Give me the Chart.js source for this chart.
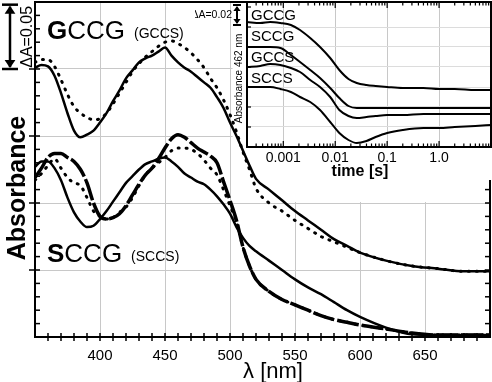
<!DOCTYPE html>
<html>
<head>
<meta charset="utf-8">
<script src="https://cdn.jsdelivr.net/npm/chart.js@4/dist/chart.umd.min.js"></script>
<style>
  html, body { margin: 0; padding: 0; background: #fff; }
  #wrap { position: relative; width: 492px; height: 382px; }
  #main { position: absolute; left: 0; top: 0; }
  #inset { position: absolute; left: 195px; top: 0; }
</style>
</head>
<body>
<div id="wrap">
  <canvas id="main" width="492" height="382"></canvas>
  <canvas id="inset" width="297" height="185"></canvas>
</div>
<script>
// main panel: absorbance spectra (one grid step = 0.05)
const wavelengths = [350, 355, 360, 365, 370, 375, 380, 385, 390, 395, 400, 405, 410, 415, 420, 425, 430, 435, 440, 445, 450, 455, 460, 465, 470, 475, 480, 485, 490, 495, 500, 505, 510, 515, 520, 530, 540, 550, 560, 570, 580, 590, 600, 620, 640, 660, 680, 700]
const gccgSolid = [0.201, 0.203, 0.202, 0.195, 0.182, 0.167, 0.154, 0.149, 0.151, 0.154, 0.160, 0.167, 0.176, 0.184, 0.193, 0.199, 0.205, 0.208, 0.210, 0.213, 0.216, 0.210, 0.205, 0.201, 0.198, 0.194, 0.190, 0.186, 0.179, 0.171, 0.160, 0.150, 0.139, 0.128, 0.118, 0.110, 0.102, 0.094, 0.087, 0.080, 0.073, 0.068, 0.063, 0.057, 0.053, 0.051, 0.049, 0.049]
const gccsDotted = [0.205, 0.207, 0.207, 0.202, 0.192, 0.181, 0.172, 0.167, 0.164, 0.162, 0.163, 0.167, 0.174, 0.182, 0.190, 0.198, 0.204, 0.209, 0.213, 0.217, 0.220, 0.221, 0.219, 0.216, 0.212, 0.207, 0.201, 0.193, 0.186, 0.177, 0.166, 0.153, 0.138, 0.125, 0.111, 0.100, 0.094, 0.087, 0.081, 0.075, 0.071, 0.067, 0.063, 0.057, 0.053, 0.051, 0.049, 0.049]
const sccgSolid = [0.127, 0.131, 0.131, 0.126, 0.117, 0.104, 0.093, 0.086, 0.082, 0.083, 0.088, 0.094, 0.101, 0.108, 0.115, 0.120, 0.125, 0.129, 0.131, 0.133, 0.134, 0.131, 0.127, 0.122, 0.119, 0.116, 0.114, 0.110, 0.105, 0.099, 0.092, 0.082, 0.074, 0.068, 0.064, 0.057, 0.050, 0.043, 0.037, 0.032, 0.026, 0.020, 0.015, 0.007, 0.002, 0.0015, 0.0015, 0.0015]
const sccgThick = [0.119, 0.126, 0.134, 0.137, 0.137, 0.134, 0.131, 0.125, 0.115, 0.100, 0.090, 0.088, 0.089, 0.092, 0.098, 0.106, 0.114, 0.121, 0.126, 0.133, 0.141, 0.148, 0.151, 0.149, 0.145, 0.141, 0.138, 0.135, 0.130, 0.116, 0.102, 0.087, 0.067, 0.053, 0.043, 0.034, 0.028, 0.024, 0.020, 0.016, 0.013, 0.011, 0.009, 0.006, 0.003, 0.0015, 0.0015, 0.0015]
const sccsDotted = [0.117, 0.122, 0.128, 0.133, 0.126, 0.119, 0.115, 0.113, 0.104, 0.094, 0.090, 0.088, 0.089, 0.093, 0.097, 0.104, 0.113, 0.121, 0.126, 0.130, 0.134, 0.139, 0.141, 0.141, 0.140, 0.137, 0.132, 0.126, 0.121, 0.110, 0.098, 0.086, 0.067, 0.053, 0.043, 0.034, 0.028, 0.024, 0.020, 0.016, 0.013, 0.011, 0.009, 0.006, 0.003, 0.0015, 0.0015, 0.0015]
const xTickValues = [400, 450, 500, 550, 600, 650]
const yGridValues = [0.05, 0.1, 0.15, 0.2]

// inset: absorbance at 462 nm vs time
const times = [0.0002, 0.00036, 0.00056, 0.00088, 0.0014, 0.0021, 0.0033, 0.0051, 0.008, 0.012, 0.018, 0.026, 0.04, 0.06, 0.1, 0.2, 0.5, 1, 2, 5, 10]
const gccgKinetic = [0.125, 0.124, 0.125, 0.124, 0.122, 0.117, 0.109, 0.100, 0.089, 0.077, 0.068, 0.064, 0.062, 0.061, 0.060, 0.059, 0.059, 0.058, 0.058, 0.057, 0.057]
const sccgKinetic = [0.100, 0.100, 0.100, 0.099, 0.092, 0.085, 0.077, 0.069, 0.059, 0.049, 0.041, 0.039, 0.039, 0.039, 0.039, 0.039, 0.039, 0.039, 0.039, 0.039, 0.039]
const gccsKinetic = [0.080, 0.081, 0.083, 0.082, 0.079, 0.075, 0.067, 0.060, 0.050, 0.037, 0.031, 0.029, 0.030, 0.031, 0.032, 0.032, 0.033, 0.033, 0.033, 0.033, 0.033]
const sccsKinetic = [0.060, 0.060, 0.060, 0.058, 0.055, 0.050, 0.045, 0.037, 0.025, 0.014, 0.007, 0.004, 0.006, 0.010, 0.014, 0.017, 0.019, 0.019, 0.020, 0.021, 0.022]
const insetTickValues = [0.001, 0.01, 0.1, 1]
const insetTickLabels = ["0.001", "0.01", "0.1", "1.0"]
const insetNames = ["GCCG", "SCCG", "GCCS", "SCCS"]

const FONT = "'Liberation Sans', Arial, sans-serif"
Chart.defaults.font.family = FONT
Chart.defaults.color = "#000"

const pts = (xs, ys) => xs.map((x, i) => ({ x: x, y: ys[i] }))

function line(ctx, x1, y1, x2, y2) {
  ctx.beginPath()
  ctx.moveTo(x1, y1)
  ctx.lineTo(x2, y2)
  ctx.stroke()
}

function doubleArrow(ctx, x, yTop, yBot, cap, head, lw) {
  ctx.save()
  ctx.strokeStyle = "#000"
  ctx.fillStyle = "#000"
  ctx.lineWidth = lw
  line(ctx, x, yTop + 2, x, yBot - 2)
  line(ctx, x - cap, yTop, x + cap, yTop)
  line(ctx, x - cap, yBot, x + cap, yBot)
  ctx.beginPath()
  ctx.moveTo(x, yTop + 1); ctx.lineTo(x - head * 0.6, yTop + head); ctx.lineTo(x + head * 0.6, yTop + head)
  ctx.fill()
  ctx.beginPath()
  ctx.moveTo(x, yBot - 1); ctx.lineTo(x - head * 0.6, yBot - head); ctx.lineTo(x + head * 0.6, yBot - head)
  ctx.fill()
  ctx.restore()
}

function label(ctx, x, y, bold, rest, size, small, smallSize) {
  ctx.font = "bold " + size + "px " + FONT
  ctx.fillText(bold, x, y)
  let w = ctx.measureText(bold).width
  ctx.font = size + "px " + FONT
  ctx.fillText(rest, x + w, y)
  w += ctx.measureText(rest).width
  ctx.font = smallSize + "px " + FONT
  ctx.fillText(small, x + w + 9, y - 1)
}

const mainDecor = {
  id: "mainDecor",
  beforeDatasetsDraw(chart) {
    // the inset box hides the grid behind it
    const { ctx, chartArea: a, scales: { x, y } } = chart
    const left = x.getPixelForValue(502)
    ctx.save()
    ctx.fillStyle = "#fff"
    ctx.fillRect(left, a.top, a.right - left, y.getPixelForValue(0.1) - 1 - a.top)
    ctx.restore()
  },
  afterDraw(chart) {
    const { ctx, chartArea: a, scales: { x, y } } = chart
    ctx.save()
    ctx.strokeStyle = "#000"
    ctx.lineWidth = 2
    ctx.strokeRect(a.left, a.top, a.right - a.left, a.bottom - a.top)
    ctx.lineWidth = 1.5
    for (let w = 360; w < 700; w += 10) {
      const px = x.getPixelForValue(w)
      line(ctx, px, a.bottom - 4, px, a.bottom + 4)
    }
    for (let k = 1; k < 25; k++) {
      const py = y.getPixelForValue(k / 100)
      line(ctx, a.left, py, a.left + 5, py)
      line(ctx, a.right, py, a.right - 5, py)
      if (k % 5 === 0) line(ctx, a.left - 6, py, a.left, py)
    }

    // scale bar
    doubleArrow(ctx, 10, y.getPixelForValue(0.248), y.getPixelForValue(0.2), 8, 9, 2.5)
    ctx.fillStyle = "#000"
    ctx.save()
    ctx.translate(28, (y.getPixelForValue(0.248) + y.getPixelForValue(0.2)) / 2)
    ctx.rotate(-Math.PI / 2)
    ctx.textAlign = "center"
    ctx.textBaseline = "middle"
    ctx.font = "16px " + FONT
    ctx.fillText("ΔA=0.05", 0, 0)
    ctx.restore()

    // axis titles
    ctx.save()
    ctx.translate(18, 188)
    ctx.rotate(-Math.PI / 2)
    ctx.textAlign = "center"
    ctx.textBaseline = "middle"
    ctx.font = "bold 25px " + FONT
    ctx.fillText("Absorbance", 0, 0)
    ctx.restore()
    ctx.textAlign = "center"
    ctx.textBaseline = "alphabetic"
    ctx.font = "22px " + FONT
    ctx.fillText("λ [nm]", 273, 378)

    // sample labels
    ctx.textAlign = "left"
    label(ctx, 47, 39, "G", "CCG", 26, "(GCCS)", 14)
    label(ctx, 47, 262, "S", "CCG", 26, "(SCCS)", 14)
    ctx.restore()
  }
}

new Chart(document.getElementById("main"), {
  type: "line",
  data: {
    datasets: [
      { data: pts(wavelengths, gccsDotted), borderColor: "#000", borderWidth: 3, borderDash: [1, 7], borderCapStyle: "round" },
      { data: pts(wavelengths, gccgSolid), borderColor: "#000", borderWidth: 2.5 },
      { data: pts(wavelengths, sccsDotted), borderColor: "#000", borderWidth: 3, borderDash: [1, 7], borderCapStyle: "round" },
      { data: pts(wavelengths, sccgThick), borderColor: "#000", borderWidth: 3.5, borderDash: [22, 3] },
      { data: pts(wavelengths, sccgSolid), borderColor: "#000", borderWidth: 2.5 }
    ]
  },
  options: {
    responsive: false,
    animation: false,
    events: [],
    layout: { padding: { top: 2, right: 2, left: 0, bottom: 0 } },
    elements: { point: { radius: 0 }, line: { cubicInterpolationMode: "monotone", fill: false } },
    plugins: { legend: { display: false }, tooltip: { enabled: false } },
    scales: {
      x: {
        type: "linear",
        min: 350,
        max: 700,
        afterBuildTicks: (s) => { s.ticks = xTickValues.map(v => ({ value: v })) },
        afterFit: (s) => { s.height = 45 },
        ticks: { font: { size: 15 }, padding: 10, maxRotation: 0 },
        grid: { color: "#c8c8c8", lineWidth: 1, drawTicks: false },
        border: { display: false }
      },
      y: {
        min: 0,
        max: 0.25,
        afterBuildTicks: (s) => { s.ticks = yGridValues.map(v => ({ value: v })) },
        afterFit: (s) => { s.width = 35 },
        ticks: { display: false },
        grid: { color: "#c8c8c8", lineWidth: 1, drawTicks: false },
        border: { display: false }
      }
    }
  },
  plugins: [mainDecor]
})

const insetDecor = {
  id: "insetDecor",
  beforeDraw(chart) {
    const { ctx, chartArea: a } = chart
    ctx.save()
    ctx.fillStyle = "#fff"
    ctx.fillRect(a.left, a.top, a.right - a.left, a.bottom - a.top)
    ctx.fillRect(a.left + 20, a.bottom, a.right - a.left - 20, 33)
    ctx.restore()
  },
  afterDraw(chart) {
    const { ctx, chartArea: a, scales: { x, y } } = chart
    ctx.save()
    ctx.strokeStyle = "#000"
    ctx.lineWidth = 2
    ctx.strokeRect(a.left, a.top, a.right - a.left, a.bottom - a.top)
    ctx.lineWidth = 1.2
    for (let k = -4; k <= 1; k++) {
      for (let m = 1; m <= 9; m++) {
        const v = m * Math.pow(10, k)
        if (v <= x.min || v >= x.max) continue
        const px = x.getPixelForValue(v)
        const len = m === 1 ? 6 : 3.5
        line(ctx, px, a.bottom, px, a.bottom - len)
        line(ctx, px, a.top, px, a.top + len)
      }
    }
    for (let v = 0.02; v < 0.145; v += 0.02) {
      const py = y.getPixelForValue(v)
      line(ctx, a.left, py, a.left + 4, py)
    }

    // trace names
    ctx.fillStyle = "#000"
    ctx.font = "15px " + FONT
    ctx.textBaseline = "middle"
    ctx.textAlign = "left"
    insetNames.forEach((n, i) => ctx.fillText(n, a.left + 4, a.top + 14 + i * 21))

    // axis titles
    ctx.font = "bold 16px " + FONT
    ctx.textAlign = "center"
    ctx.fillText("time [s]", x.getPixelForValue(0.03), a.bottom + 25)
    ctx.save()
    ctx.translate(a.left - 8, (a.top + a.bottom) / 2 + 4)
    ctx.rotate(-Math.PI / 2)
    ctx.font = "10px " + FONT
    ctx.fillText("Absorbance 462 nm", 0, 0)
    ctx.restore()

    // scale bar
    const yTop = y.getPixelForValue(0.142)
    const yBot = y.getPixelForValue(0.122)
    doubleArrow(ctx, a.left - 10, yTop, yBot, 4, 6, 2)
    ctx.font = "10.5px " + FONT
    ctx.textAlign = "right"
    ctx.fillText("ΔA=0.02", a.left - 15, (yTop + yBot) / 2)
    ctx.restore()
  }
}

new Chart(document.getElementById("inset"), {
  type: "line",
  data: {
    datasets: [gccgKinetic, sccgKinetic, gccsKinetic, sccsKinetic].map(s => ({
      data: pts(times, s), borderColor: "#000", borderWidth: 2
    }))
  },
  options: {
    responsive: false,
    animation: false,
    events: [],
    layout: { padding: { top: 2, right: 1, left: 0, bottom: 0 } },
    elements: { point: { radius: 0 }, line: { cubicInterpolationMode: "monotone", fill: false } },
    plugins: { legend: { display: false }, tooltip: { enabled: false } },
    scales: {
      x: {
        type: "logarithmic",
        min: 0.0002,
        max: 10,
        afterBuildTicks: (s) => { s.ticks = insetTickValues.map(v => ({ value: v })) },
        afterFit: (s) => { s.height = 38 },
        ticks: {
          font: { size: 14 },
          padding: 3,
          maxRotation: 0,
          autoSkip: false,
          callback: (v) => insetTickLabels[insetTickValues.findIndex(t => Math.abs(t - v) < t * 1e-6)]
        },
        grid: { color: "#c8c8c8", drawTicks: false },
        border: { display: false }
      },
      y: {
        min: 0,
        max: 0.145,
        afterBuildTicks: (s) => { s.ticks = [0.02, 0.04, 0.06, 0.08, 0.1, 0.12].map(v => ({ value: v })) },
        afterFit: (s) => { s.width = 52 },
        ticks: { display: false },
        grid: { color: "#dcdcdc", drawTicks: false },
        border: { display: false }
      }
    }
  },
  plugins: [insetDecor]
})
</script>
</body>
</html>
